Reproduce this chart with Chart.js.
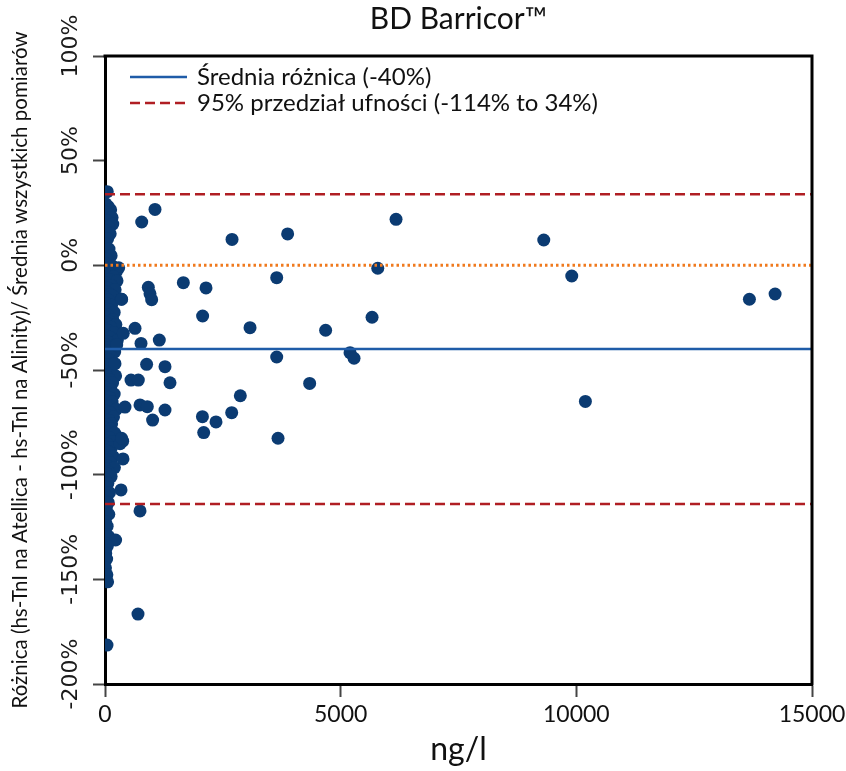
<!DOCTYPE html>
<html>
<head>
<meta charset="utf-8">
<script src="https://cdn.jsdelivr.net/npm/chart.js@4"></script>
<style>
    html, body { margin: 0; padding: 0; background: #fff; }
    canvas { display: block; }
</style>
</head>
<body>
<canvas id="baChart" width="846" height="771"></canvas>
<script>
// --- Data ---
const chartTitle = 'BD Barricor™';
const xTitle = 'ng/l';
const yTitle = 'Różnica (hs-TnI na Atellica - hs-TnI na Alinity)/ Średnia wszystkich pomiarów';

// concentration (ng/l) and % difference, pairwise
const concentration = [
    48, 15, 70, 120, 25, 95, 150, 40, 165, 75, 20, 110, 55, 10, 85, 130, 35, 5, 160, 290, 240, 60,
    20, 185, 95, 10, 255, 130, 55, 215, 30, 110, 160, 0, 75, 350, 45, 140, 15, 100, 195, 60, 5, 165,
    90, 35, 230, 120, 0, 70, 185, 25, 105, 260, 55, 5, 150, 85, 20, 205, 45, 125, 10, 80, 175, 30,
    115, 60, 0, 140, 225, 40, 95, 15, 160, 70, 0, 120, 50, 195, 25, 100, 10, 150, 65, 35, 240, 0,
    110, 55, 180, 20, 90, 140, 40, 0, 125, 70, 205, 30, 100, 10, 160, 55, 0, 135, 40, 90, 20, 175,
    60, 0, 110, 40, 200, 10, 80, 30, 130, 0, 60, 20, 95, 40, 0, 70, 25, 80, 10, 45, 30, 75, 225, 0,
    50, 15, 35, 10, 40, 55,
    1061, 779, 2695, 3875, 6175, 9309, 5787, 9903, 3643, 1662, 2143, 919, 955, 990, 2071, 3077,
    4681, 5666, 3643, 5199, 5284, 4342, 2871, 2067, 2355, 2688, 2094, 3671, 10192, 13672, 14217,
    637, 388, 764, 1152, 883, 1273, 552, 707, 1379, 743, 898, 1273, 1010, 352, 743, 700, 42, 340,
    382, 375, 320, 424, 248, 212, 352
];
const difference = [
    35.2, 29.4, 28.1, 26.5, 25.3, 24.0, 22.8, 21.2, 19.7, 18.3, 16.4, 15.1, 12.6, 10.2, 7.8, 4.6, 2.9, 0.8, -0.4, -1.2, -3.1, -2.6,
    -4.3, -5.5, -6.8, -8.2, -7.4, -9.6, -10.9, -11.7, -12.8, -13.9, -14.6, -15.3, -16.7, -16.2, -18.4, -19.1, -20.6, -21.3, -22.5, -23.8, -24.4, -25.9,
    -26.7, -27.5, -28.3, -29.6, -30.4, -31.2, -32.1, -33.7, -34.3, -35.8, -36.4, -37.9, -38.6, -39.3, -40.7, -41.4, -42.6, -43.5, -44.8, -45.2, -46.9, -47.4,
    -48.1, -49.7, -50.6, -51.3, -52.8, -53.1, -54.5, -55.9, -56.2, -57.6, -58.3, -59.4, -60.8, -61.5, -62.7, -63.2, -64.6, -65.3, -66.9, -67.4, -68.8, -69.5,
    -70.3, -71.9, -72.4, -73.6, -74.1, -75.7, -76.3, -77.8, -78.2, -79.6, -80.1, -81.7, -82.4, -83.9, -84.3, -85.5, -86.8, -87.2, -88.6, -89.3, -90.9, -91.4,
    -92.8, -93.5, -94.2, -95.7, -96.6, -97.3, -98.8, -99.4, -100.9, -102.3, -104.1, -105.8, -108.6, -110.2, -112.7, -113.4, -116.1, -118.9, -122.4, -124.6, -128.7, -129.5, -131.2, -132.9,
    -134.1, -137.6, -140.3, -144.5, -147.8, -151.2,
    26.7, 20.7, 12.4, 15.0, 22.0, 12.1, -1.4, -5.1, -5.9, -8.3, -10.8, -10.5, -13.6, -16.4, -24.2, -29.8,
    -31.0, -24.8, -43.8, -41.7, -44.4, -56.4, -62.3, -72.3, -74.8, -70.4, -79.9, -82.6, -65.0, -16.2, -13.7,
    -30.1, -32.5, -37.3, -35.7, -47.3, -48.4, -54.8, -54.8, -56.1, -66.7, -67.5, -69.1, -73.9, -16.2, -117.3, -166.6, -181.4, -107.3,
    -92.5, -84.0, -85.2, -67.7, -38.1, -47.0, -82.6
];

const xRange = [0, 15000];
const yRange = [-200, 100];
const xStep = 5000;
const yStep = 50;

const meanDiff = -40;
const ciLower = -114;
const ciUpper = 34;

const meanLabel = 'Średnia różnica (-40%)';
const ciLabel = '95% przedział ufności (-114% to 34%)';

// --- Colours ---
const pointColor = '#0b3b72';
const meanColor = '#1f5ca8';
const ciColor = '#b01e23';
const zeroColor = '#f07a1e';

const scatterData = concentration.map((x, i) => ({ x: x, y: difference[i] }));
const hLine = (y) => xRange.map(x => ({ x: x, y: y }));

// frame top / right edges of the plot box
const frameBox = {
    id: 'frameBox',
    afterDraw(chart) {
        const { ctx, chartArea: a } = chart;
        ctx.save();
        ctx.strokeStyle = '#000';
        ctx.lineWidth = 3;
        ctx.beginPath();
        ctx.moveTo(a.left - 1.5, a.top);
        ctx.lineTo(a.right, a.top);
        ctx.lineTo(a.right, a.bottom + 1.5);
        ctx.stroke();
        ctx.restore();
    }
};

// legend drawn inside the plot, top-left
const insideLegend = {
    id: 'insideLegend',
    afterDatasetsDraw(chart) {
        const { ctx, chartArea: a } = chart;
        const items = chart.data.datasets.filter(d => d.inLegend);
        ctx.save();
        ctx.font = '24px Lato';
        ctx.textBaseline = 'middle';
        ctx.fillStyle = '#111';
        items.forEach((d, i) => {
            const y = a.top + 21 + i * 26;
            const x0 = a.left + 25;
            ctx.strokeStyle = d.borderColor;
            ctx.lineWidth = d.borderWidth;
            ctx.setLineDash(d.borderDash || []);
            ctx.beginPath();
            ctx.moveTo(x0, y);
            ctx.lineTo(x0 + 57, y);
            ctx.stroke();
            ctx.setLineDash([]);
            ctx.fillText(d.label, x0 + 67, y);
        });
        ctx.restore();
    }
};

const lineDefaults = { type: 'line', showLine: true, pointRadius: 0, pointHoverRadius: 0, fill: false, tension: 0 };

new Chart(document.getElementById('baChart'), {
    type: 'scatter',
    data: {
        datasets: [
            Object.assign({}, lineDefaults, {
                label: meanLabel, inLegend: true, data: hLine(meanDiff),
                borderColor: meanColor, borderWidth: 2.5
            }),
            Object.assign({}, lineDefaults, {
                label: ciLabel, inLegend: true, data: hLine(ciUpper),
                borderColor: ciColor, borderWidth: 2.5, borderDash: [10, 5]
            }),
            Object.assign({}, lineDefaults, {
                label: 'ci-lower', data: hLine(ciLower),
                borderColor: ciColor, borderWidth: 2.5, borderDash: [10, 5]
            }),
            Object.assign({}, lineDefaults, {
                label: 'zero', data: hLine(0),
                borderColor: zeroColor, borderWidth: 3, borderDash: [2.5, 3]
            }),
            {
                label: 'points', data: scatterData,
                backgroundColor: pointColor, borderWidth: 0,
                pointRadius: 6.5, pointHoverRadius: 6.5
            }
        ]
    },
    options: {
        responsive: false,
        animation: false,
        layout: { padding: { left: 0, right: 34, top: 0, bottom: 0 } },
        plugins: {
            legend: { display: false },
            tooltip: { enabled: false },
            title: {
                display: true,
                text: chartTitle,
                fullSize: false,
                color: '#111',
                font: { family: 'Lato', size: 30, weight: 'normal' },
                padding: { top: 1, bottom: 19 }
            }
        },
        scales: {
            x: {
                type: 'linear',
                min: xRange[0], max: xRange[1],
                afterFit: (scale) => { scale.height = 87; scale.paddingRight = 0; },
                ticks: {
                    stepSize: xStep,
                    color: '#111',
                    font: { family: 'Lato', size: 23 },
                    padding: 4,
                    maxRotation: 0,
                    callback: (v) => String(v)
                },
                grid: { display: true, drawOnChartArea: false, drawTicks: true, tickLength: 13, tickColor: '#444', tickWidth: 2 },
                border: { display: true, color: '#000', width: 3 },
                title: {
                    display: true, text: xTitle, color: '#111',
                    font: { family: 'Lato', size: 32 },
                    padding: { top: 0, bottom: 2 }
                }
            },
            y: {
                type: 'linear',
                min: yRange[0], max: yRange[1],
                afterFit: (scale) => { scale.width = 105; },
                ticks: {
                    stepSize: yStep,
                    color: '#1a1a1a',
                    font: { family: 'DejaVu Sans', size: 22 },
                    minRotation: 90, maxRotation: 90,
                    crossAlign: 'center',
                    padding: -14,
                    labelOffset: -10,
                    callback: (v) => v + '%'
                },
                grid: { display: true, drawOnChartArea: false, drawTicks: true, tickLength: 12, tickColor: '#444', tickWidth: 2 },
                border: { display: true, color: '#000', width: 3 },
                title: {
                    display: true, text: yTitle, color: '#111',
                    font: { family: 'Lato', size: 20.5 },
                    padding: { top: 8, bottom: 0 }
                }
            }
        }
    },
    plugins: [frameBox, insideLegend]
});
</script>
</body>
</html>
